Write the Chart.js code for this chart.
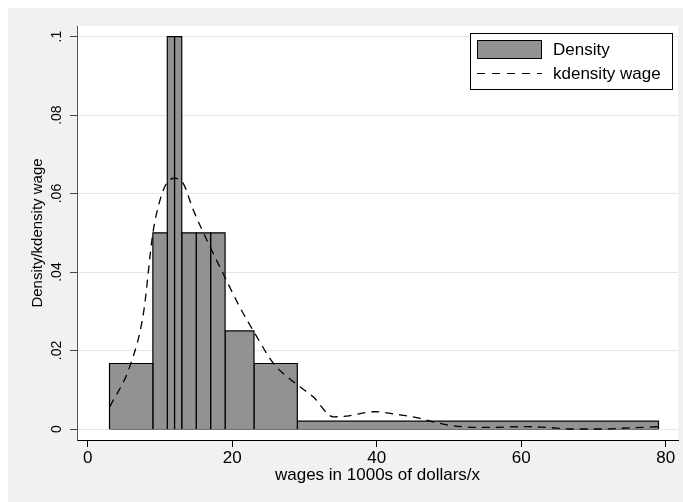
<!DOCTYPE html>
<html>
<head>
<meta charset="utf-8">
<script src="https://cdn.jsdelivr.net/npm/chart.js@4"></script>
<style>
  body { margin: 0; background: #fff; }
  #wrap { width: 683px; height: 502px; }
</style>
</head>
<body>
<div id="wrap"><canvas id="myChart" width="683" height="502"></canvas></div>
<script>
// histogram bins (wage, density)
const binLo = [3, 9, 11, 12, 13, 15, 17, 19, 23, 29];
const binHi = [9, 11, 12, 13, 15, 17, 19, 23, 29, 79];
const binDensity = [0.0167, 0.05, 0.1, 0.1, 0.05, 0.05, 0.05, 0.025, 0.0167, 0.002];

// kernel density estimate
const kdX = [3.05, 5.8, 7.7, 9.0, 10.0, 10.9, 12.0, 13.2, 14.6, 16.9, 18.7, 21.0, 23.4, 25.7, 28.9, 31.2, 34.0, 35.8, 39.7, 43.2, 46.0, 48.3, 50.6, 55.2, 60.8, 63.5, 67.2, 70.9, 75.1, 79.2];
const kdY = [0.0057, 0.0159, 0.0295, 0.0499, 0.0584, 0.0626, 0.0639, 0.0626, 0.0558, 0.0465, 0.0397, 0.0312, 0.0235, 0.0167, 0.0114, 0.0082, 0.0031, 0.0033, 0.0044, 0.0036, 0.0027, 0.0016, 0.0008, 0.0004, 0.0006, 0.0004, 0.0, 0.0, 0.0003, 0.0006];

const xTickValues = [0, 20, 40, 60, 80];
const yTickValues = [0, 0.02, 0.04, 0.06, 0.08, 0.1];
const yTickLabels = ['0', '.02', '.04', '.06', '.08', '.1'];

const FONT = '"Liberation Sans", Arial, Helvetica, sans-serif';
const BAR_FILL = '#929292';

const datasets = [{
    label: 'kdensity wage',
    data: kdX.map((x, i) => ({x: x, y: kdY[i]})),
    borderColor: '#000',
    borderWidth: 1.3,
    borderDash: [8, 6],
    pointRadius: 0,
    fill: false,
    cubicInterpolationMode: 'monotone'
}];

// one closed block per bin
binLo.forEach((lo, i) => {
    datasets.push({
        label: 'Density',
        data: [{x: lo, y: 0}, {x: lo, y: binDensity[i]}, {x: binHi[i], y: binDensity[i]}, {x: binHi[i], y: 0}],
        borderColor: '#000',
        borderWidth: 1.2,
        backgroundColor: BAR_FILL,
        pointRadius: 0,
        tension: 0,
        fill: 'origin'
    });
});

// bottom edge of the bars
datasets.push({
    label: 'base',
    data: [{x: binLo[0], y: 0}, {x: binHi[binHi.length - 1], y: 0}],
    borderColor: '#000',
    borderWidth: 1.2,
    pointRadius: 0,
    fill: false
});

const backdrop = {
    id: 'backdrop',
    beforeDraw(chart) {
        const {ctx, chartArea: a} = chart;
        ctx.save();
        ctx.fillStyle = '#fff';
        ctx.fillRect(0, 0, chart.width, chart.height);
        ctx.fillStyle = '#f1f1f1';
        ctx.fillRect(8, 8, chart.width - 8, chart.height - 8);
        ctx.fillStyle = '#fff';
        ctx.fillRect(a.left, a.top, a.right - a.left, a.bottom - a.top);
        ctx.restore();
    }
};

// Stata style legend box in the top right corner
const boxLegend = {
    id: 'boxLegend',
    afterDraw(chart) {
        const ctx = chart.ctx;
        const ds = chart.data.datasets;
        ctx.save();
        ctx.fillStyle = '#fff';
        ctx.fillRect(470, 33, 202, 56);
        ctx.strokeStyle = '#000';
        ctx.lineWidth = 1;
        ctx.strokeRect(470.5, 33.5, 202, 56);

        ctx.fillStyle = ds[1].backgroundColor;
        ctx.fillRect(477, 40, 64, 18);
        ctx.strokeRect(477.5, 40.5, 64, 18);

        ctx.beginPath();
        ctx.setLineDash([8, 7]);
        ctx.lineWidth = 1.2;
        ctx.moveTo(477, 73.5);
        ctx.lineTo(542, 73.5);
        ctx.stroke();
        ctx.setLineDash([]);

        ctx.fillStyle = '#000';
        ctx.font = '17px ' + FONT;
        ctx.textBaseline = 'middle';
        ctx.fillText(ds[1].label, 553, 50);
        ctx.fillText(ds[0].label, 553, 74);
        ctx.restore();
    }
};

new Chart(document.getElementById('myChart'), {
    type: 'line',
    data: {datasets: datasets},
    options: {
        responsive: false,
        animation: false,
        layout: {padding: {top: 26, right: 5, left: 0, bottom: 0}},
        plugins: {
            legend: {display: false},
            tooltip: {enabled: false}
        },
        scales: {
            x: {
                type: 'linear',
                min: -1.5,
                max: 81.7,
                afterFit: s => { s.height = 62; },
                afterBuildTicks: s => { s.ticks = xTickValues.map(v => ({value: v})); },
                grid: {drawOnChartArea: false, tickLength: 7, tickColor: '#000'},
                border: {color: '#000', width: 1},
                ticks: {color: '#000', padding: 1, font: {family: FONT, size: 17}},
                title: {
                    display: true,
                    text: 'wages in 1000s of dollars/x',
                    color: '#000',
                    font: {family: FONT, size: 17},
                    padding: {top: 0, bottom: 16}
                }
            },
            y: {
                type: 'linear',
                min: -0.0028,
                max: 0.1027,
                afterFit: s => { s.width = 77; },
                afterBuildTicks: s => { s.ticks = yTickValues.map(v => ({value: v})); },
                grid: {color: '#e6e6e6', lineWidth: 1, tickLength: 7, tickColor: '#444'},
                border: {color: '#555', width: 1},
                ticks: {
                    color: '#000',
                    padding: 3,
                    minRotation: 90,
                    maxRotation: 90,
                    crossAlign: 'center',
                    font: {family: FONT, size: 14},
                    callback: (v, i) => yTickLabels[yTickValues.indexOf(v)]
                },
                title: {
                    display: true,
                    text: 'Density/kdensity wage',
                    color: '#000',
                    font: {family: FONT, size: 15},
                    padding: {top: 29, bottom: 0}
                }
            }
        }
    },
    plugins: [backdrop, boxLegend]
});
</script>
</body>
</html>
